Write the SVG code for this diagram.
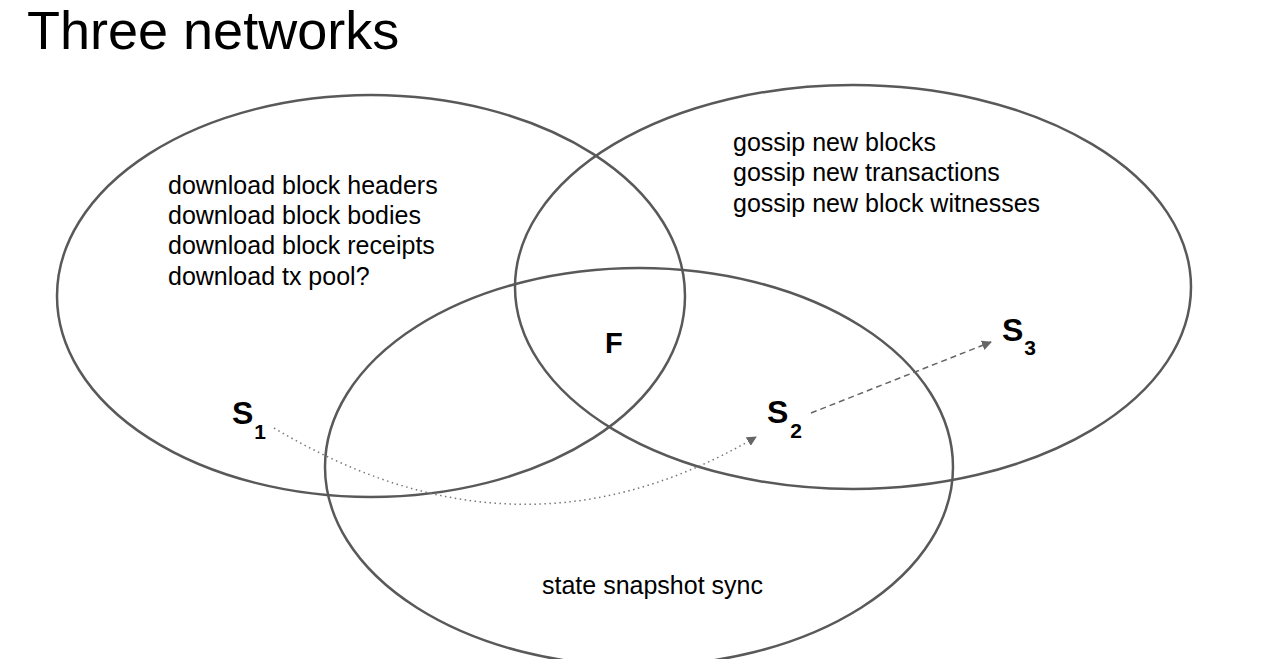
<svg xmlns="http://www.w3.org/2000/svg" width="1268" height="659" viewBox="0 0 1268 659">
  <style>
    .net { fill: none; stroke: #595959; stroke-width: 2.5; }
    .t { font-family: "Liberation Sans", Arial, sans-serif; font-size: 25px; fill: #000; }
    .title { font-family: "Liberation Sans", Arial, sans-serif; font-size: 54px; fill: #000; }
    .node { font-family: "Liberation Sans", Arial, sans-serif; font-weight: bold; fill: #000; }
    .sub { font-size: 21px; }
    .dotted { fill: none; stroke: #777; stroke-width: 1.5; stroke-dasharray: 1.5 3.5; }
    .dashed { fill: none; stroke: #666; stroke-width: 1.5; stroke-dasharray: 6 4; }
  </style>
  <defs>
    <marker id="arrow" viewBox="0 0 10 10" refX="9" refY="5" markerWidth="10" markerHeight="10" markerUnits="userSpaceOnUse" orient="auto">
      <path d="M0,0 L10,5 L0,10 z" fill="#666"/>
    </marker>
  </defs>
  <rect width="1268" height="659" fill="#fff"/>
  <text class="title" x="27" y="49">Three networks</text>

  <g id="net-download">
    <ellipse class="net" cx="371" cy="296" rx="314" ry="201"/>
    <text class="t" x="168" y="194">download block headers</text>
    <text class="t" x="168" y="224">download block bodies</text>
    <text class="t" x="168" y="254">download block receipts</text>
    <text class="t" x="168" y="285">download tx pool?</text>
  </g>
  <g id="net-gossip">
    <ellipse class="net" cx="853" cy="287" rx="338" ry="202"/>
    <text class="t" x="733" y="151">gossip new blocks</text>
    <text class="t" x="733" y="181">gossip new transactions</text>
    <text class="t" x="733" y="212">gossip new block witnesses</text>
  </g>
  <g id="net-state">
    <ellipse class="net" cx="639" cy="467" rx="314" ry="199"/>
    <text class="t" x="542" y="594">state snapshot sync</text>
  </g>

  <g id="node-F">
    <text class="node" x="605" y="353" font-size="29">F</text>
  </g>
  <g id="node-S1">
    <text class="node" x="232" y="424" font-size="32">S<tspan class="sub" dx="1" dy="15">1</tspan></text>
  </g>
  <g id="node-S2">
    <text class="node" x="767" y="423" font-size="32">S<tspan class="sub" dx="2" dy="15">2</tspan></text>
  </g>
  <g id="node-S3">
    <text class="node" x="1002" y="341" font-size="32">S<tspan class="sub" dx="1" dy="14">3</tspan></text>
  </g>

  <g id="connectors">
    <path class="dotted" d="M274,428 C420,515 580,540 756,437" marker-end="url(#arrow)"/>
    <path class="dashed" d="M811,413 L991,342" marker-end="url(#arrow)"/>
  </g>
</svg>
